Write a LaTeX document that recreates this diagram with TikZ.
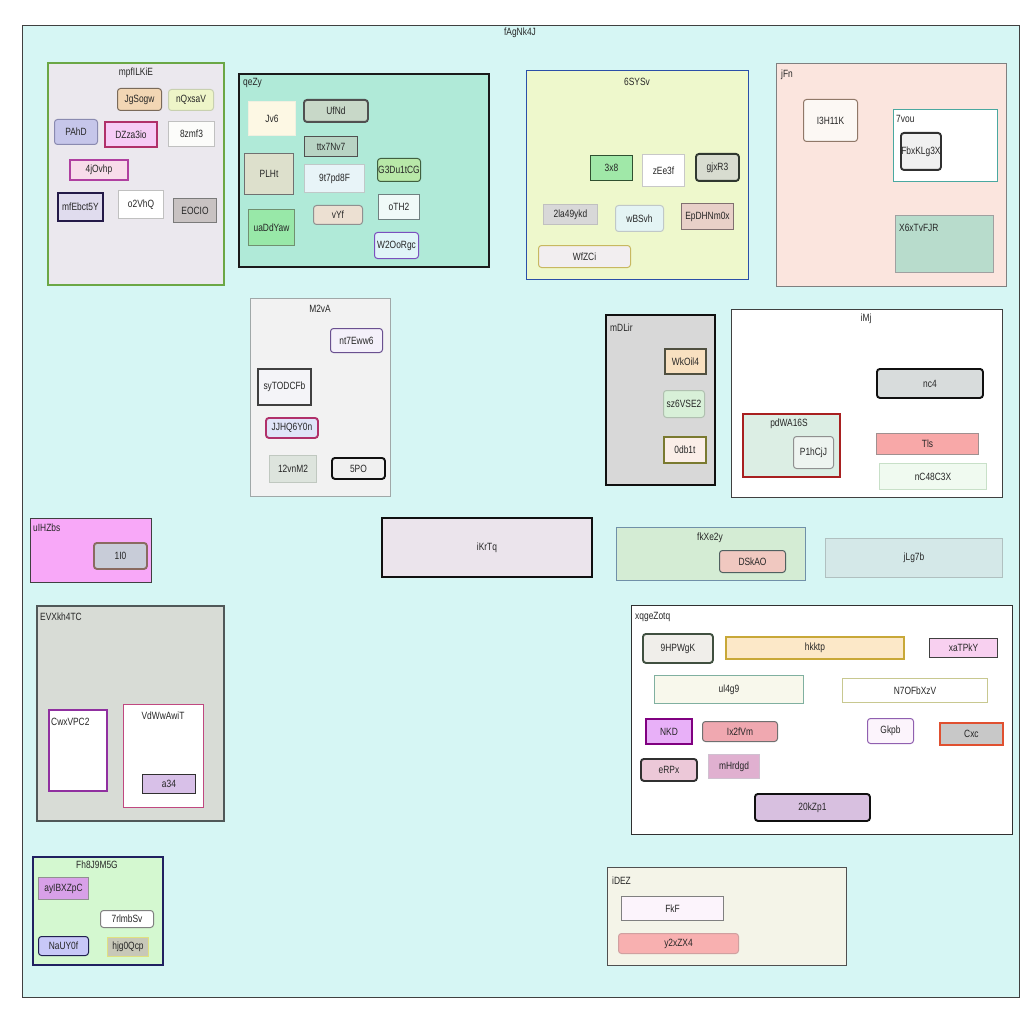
\documentclass[tikz,border=0pt]{standalone}
\usepackage{fontspec}
\setmainfont{Liberation Sans}[FakeStretch=0.8]
\newcommand\mkbox[9]{%
  \definecolor{F#1}{HTML}{#6}\definecolor{D#1}{HTML}{#7}%
  \node[bx, fill=F#1, draw=D#1, minimum width={#4-#2}, minimum height={#5-#3}, #8] (#1) at (#2,#3) {#9};}
\begin{document}
\begin{tikzpicture}[x=1pt,y=-1pt,
  bx/.style={rectangle, anchor=north west, inner sep=0pt, line width=1pt, font=\fontsize{10.5}{12}\selectfont, text=black!85},
  tk/.style={line width=1.9pt},
  rc/.style={rounded corners=3pt},
  lbl/.style={inner sep=0pt, font=\fontsize{10.5}{12}\selectfont, text=black!85},
  lw/.style={lbl, anchor=west}]
\useasboundingbox (0,0) rectangle (1024,1024);
\fill[white] (0,0) rectangle (1024,1024);
\mkbox{root}{22}{25}{1019}{997}{D6F6F4}{404040}{}{}
\node[lbl] (root-t) at (520,33) {fAgNk4J};

% mpfILKiE
\mkbox{mpf}{47}{62}{223}{284}{EBE8EE}{6BA745}{line width=1.8pt}{}
\node[lbl] (mpf-t) at (136,73) {mpfILKiE};
\mkbox{JgSogw}{117}{88}{161}{110}{F2D6B4}{7A6A5A}{rc}{JgSogw}
\mkbox{nQxsaV}{168}{89}{213}{110}{EEF5C8}{C8D0B0}{rc}{nQxsaV}
\mkbox{PAhD}{54}{119}{97}{144}{C6C6EA}{8A8AB0}{rc}{PAhD}
\mkbox{DZza3io}{104}{121}{156}{146}{F6CCF6}{B0306A}{tk}{DZza3io}
\mkbox{8zmf3}{168}{121}{214}{146}{FCFCFA}{C0C0C0}{}{8zmf3}
\mkbox{4jOvhp}{69}{159}{127}{179}{F8DCEA}{B040A0}{tk}{4jOvhp}
\mkbox{mfEbct5Y}{57}{192}{102}{220}{E0DCEE}{241A48}{tk}{mfEbct5Y}
\mkbox{o2VhQ}{118}{190}{163}{218}{FFFFFF}{C0C0C0}{}{o2VhQ}
\mkbox{EOCIO}{173}{198}{216}{222}{C8C2C2}{7A7A7A}{}{EOCIO}

% qeZy
\mkbox{qeZy}{238}{73}{488}{266}{B0EAD8}{1A1A1A}{tk}{}
\node[lw] (qeZy-t) at (243,83) {qeZy};
\mkbox{Jv6}{248}{101}{295}{135}{FDF8E4}{F0F0E0}{}{Jv6}
\mkbox{UfNd}{303}{99}{367}{121}{C8D8C8}{505050}{tk,rc}{UfNd}
\mkbox{ttx7Nv7}{304}{136}{357}{156}{B8D4C4}{505050}{}{ttx7Nv7}
\mkbox{PLHt}{244}{153}{293}{194}{DDE0CC}{707070}{}{PLHt}
\mkbox{9t7pd8F}{304}{164}{364}{192}{E8F4F8}{C0C8C8}{}{9t7pd8F}
\mkbox{G3Du1tCG}{377}{158}{420}{181}{B8E8A8}{406040}{rc}{G3Du1tCG}
\mkbox{uaDdYaw}{248}{209}{294}{245}{98E8A8}{709070}{}{uaDdYaw}
\mkbox{vYf}{313}{205}{362}{224}{ECE0D2}{909090}{rc}{vYf}
\mkbox{oTH2}{378}{194}{419}{219}{F0FAF8}{708080}{}{oTH2}
\mkbox{W2OoRgc}{374}{232}{418}{258}{E0F4F8}{7B4FBF}{rc}{W2OoRgc}

% 6SYSv
\mkbox{sys}{526}{70}{748}{279}{EEF8CC}{2B4FA8}{line width=1.4pt}{}
\node[lbl] (sys-t) at (637,82) {6SYSv};
\mkbox{3x8}{590}{155}{632}{180}{A0E8A8}{305030}{}{3x8}
\mkbox{zEe3f}{642}{154}{684}{186}{FFFFFF}{C8C8C8}{}{zEe3f}
\mkbox{gjxR3}{695}{153}{738}{180}{D8DCD0}{303830}{tk,rc}{gjxR3}
\mkbox{2la49ykd}{543}{204}{597}{224}{D8D8D8}{C0C0C0}{}{2la49ykd}
\mkbox{wBSvh}{615}{205}{663}{231}{E4F4F4}{C0C8C8}{rc}{wBSvh}
\mkbox{EpDHNm0x}{681}{203}{733}{229}{E8D0C8}{807070}{}{EpDHNm0x}
\mkbox{WfZCi}{538}{245}{630}{267}{F2EEF0}{C8B860}{rc}{WfZCi}

% jFn
\mkbox{jFn}{776}{63}{1006}{286}{FBE5DE}{808080}{}{}
\node[lw] (jFn-t) at (781,75) {jFn};
\mkbox{I3H11K}{803}{99}{857}{141}{FCF8F4}{907868}{rc}{I3H11K}
\mkbox{7vou}{893}{109}{997}{181}{FFFFFF}{4AA8A0}{line width=1.4pt}{}
\node[lw] (7vou-t) at (896,119) {7vou};
\mkbox{FbxKLg3X}{900}{132}{940}{169}{F0F0F0}{303030}{tk,rc}{FbxKLg3X}
\mkbox{X6x}{895}{215}{993}{272}{B8DCCC}{A0A0A0}{}{}
\node[lw] (X6x-t) at (899,228) {X6xTvFJR};

% M2vA
\mkbox{M2vA}{250}{298}{390}{496}{F2F2F2}{A0A8A8}{}{}
\node[lbl] (M2vA-t) at (320,309) {M2vA};
\mkbox{nt7Eww6}{330}{328}{382}{352}{F4F0FA}{6A5090}{rc}{nt7Eww6}
\mkbox{syTODCFb}{257}{368}{310}{404}{F4F4F8}{404040}{tk}{syTODCFb}
\mkbox{JJHQ6Y0n}{265}{417}{317}{437}{E0E4F8}{B0306A}{tk,rc}{JJHQ6Y0n}
\mkbox{12vnM2}{269}{455}{316}{482}{DDE4DD}{C0C8C0}{}{12vnM2}
\mkbox{5PO}{331}{457}{384}{478}{F0F0F0}{101010}{tk,rc}{5PO}

% mDLir
\mkbox{mDLir}{605}{314}{714}{484}{D8D8D8}{101010}{tk}{}
\node[lw] (mDLir-t) at (610,328) {mDLir};
\mkbox{WkOil4}{664}{348}{705}{373}{F8E0C0}{505040}{tk}{WkOil4}
\mkbox{sz6VSE2}{663}{390}{704}{417}{D8F0D8}{B0C0B0}{rc}{sz6VSE2}
\mkbox{0db1t}{663}{436}{705}{462}{FBEEE8}{7A7A30}{tk}{0db1t}

% iMj
\mkbox{iMj}{731}{309}{1002}{497}{FFFFFF}{404040}{}{}
\node[lbl] (iMj-t) at (866,319) {iMj};
\mkbox{nc4}{876}{368}{982}{397}{D8DCDC}{101010}{tk,rc}{nc4}
\mkbox{pdWA}{742}{413}{839}{476}{DCEEE4}{A82020}{tk}{}
\node[lbl] (pdWA-t) at (789,424) {pdWA16S};
\mkbox{P1hCjJ}{793}{436}{833}{468}{EEF4F0}{909090}{rc}{P1hCjJ}
\mkbox{Tls}{876}{433}{978}{454}{F8A8A8}{A09090}{}{Tls}
\mkbox{nC48C3X}{879}{463}{986}{489}{F0FAF0}{C8E0C8}{}{nC48C3X}

% uIHZbs
\mkbox{uIHZbs}{30}{518}{151}{582}{F8A8F8}{404040}{}{}
\node[lw] (uIHZbs-t) at (33,528) {uIHZbs};
\mkbox{1I0}{93}{542}{146}{568}{C8CCD8}{8A6A60}{tk,rc}{1I0}

% EVXkh4TC
\mkbox{EVX}{36}{605}{223}{820}{D8DCD6}{505858}{tk}{}
\node[lw] (EVX-t) at (40,617) {EVXkh4TC};
\mkbox{Cwx}{48}{709}{106}{790}{FFFFFF}{9030A0}{tk}{}
\node[lw] (Cwx-t) at (51,722) {CwxVPC2};
\mkbox{VdW}{123}{704}{203}{807}{FFFFFF}{C04880}{}{}
\node[lbl] (VdW-t) at (163,716) {VdWwAwiT};
\mkbox{a34}{142}{774}{195}{793}{D8C0E8}{303030}{}{a34}

% middle row
\mkbox{iKrTq}{381}{517}{591}{576}{EBE4EC}{101010}{tk}{iKrTq}
\mkbox{fkX}{616}{527}{805}{580}{D4ECD4}{7090A8}{}{}
\node[lbl] (fkX-t) at (710,538) {fkXe2y};
\mkbox{DSkAO}{719}{550}{785}{572}{F0C8C0}{506060}{rc}{DSkAO}
\mkbox{jLg7b}{825}{538}{1002}{577}{D4E8E8}{B0C0C0}{}{jLg7b}

% xqgeZotq
\mkbox{xqg}{631}{605}{1012}{834}{FFFFFF}{303030}{}{}
\node[lw] (xqg-t) at (635,617) {xqgeZotq};
\mkbox{9HPWgK}{642}{633}{712}{662}{F0EEEA}{405040}{tk,rc}{9HPWgK}
\mkbox{hkktp}{725}{636}{903}{658}{FCE8C8}{C8A838}{tk}{hkktp}
\mkbox{xaTPkY}{929}{638}{997}{657}{F8D0F0}{404040}{}{xaTPkY}
\mkbox{ul4g9}{654}{675}{803}{703}{F8F8EC}{80B0A0}{}{ul4g9}
\mkbox{N7OFbXzV}{842}{678}{987}{702}{FFFFFF}{C8C890}{}{N7OFbXzV}
\mkbox{NKD}{645}{718}{691}{743}{E8B0F8}{800080}{tk}{NKD}
\mkbox{Ix2fVm}{702}{721}{777}{741}{F0A8B0}{707070}{rc}{Ix2fVm}
\mkbox{Gkpb}{867}{718}{913}{743}{FCF4FC}{9060B0}{rc}{Gkpb}
\mkbox{Cxc}{939}{722}{1002}{744}{C8C8C8}{E05030}{tk}{Cxc}
\mkbox{eRPx}{640}{758}{696}{780}{ECC8D8}{303030}{tk,rc}{eRPx}
\mkbox{mHrdgd}{708}{754}{759}{778}{E0B0D0}{D0C0D0}{}{mHrdgd}
\mkbox{20kZp1}{754}{793}{869}{820}{D8C0E0}{101010}{tk,rc}{20kZp1}

% Fh8J9M5G
\mkbox{Fh8}{32}{856}{162}{964}{D4F8D0}{202060}{tk}{}
\node[lbl] (Fh8-t) at (97,865) {Fh8J9M5G};
\mkbox{ayIBXZpC}{38}{877}{88}{899}{D8A0E8}{909090}{}{ayIBXZpC}
\mkbox{7rlmbSv}{100}{910}{153}{927}{FFFFFF}{808080}{rc}{7rlmbSv}
\mkbox{NaUY0f}{38}{936}{88}{955}{C8C8F8}{202050}{rc}{NaUY0f}
\mkbox{hjg0Qcp}{107}{937}{148}{956}{C8C8B8}{E0E080}{}{hjg0Qcp}

% iDEZ
\mkbox{iDEZ}{607}{867}{846}{965}{F4F4E8}{505050}{}{}
\node[lw] (iDEZ-t) at (612,881) {iDEZ};
\mkbox{FkF}{621}{896}{723}{920}{FCF4FC}{808080}{}{FkF}
\mkbox{y2xZX4}{618}{933}{738}{953}{F8B0B0}{D0A0A0}{rc}{y2xZX4}
\end{tikzpicture}
\end{document}
